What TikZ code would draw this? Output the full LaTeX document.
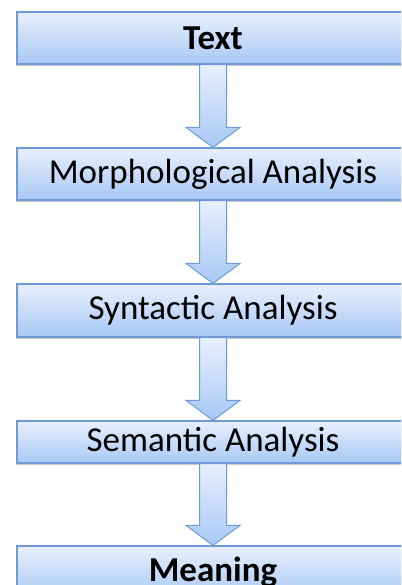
\documentclass[tikz,border=0pt]{standalone}
\usepackage{fontspec}
\setmainfont{Carlito}
\usetikzlibrary{calc,shadows}
\definecolor{boxtop}{RGB}{232,240,253}
\definecolor{boxbot}{RGB}{168,200,245}
\definecolor{boxline}{RGB}{110,155,215}
\tikzset{
  stagebox/.style={rectangle, draw=boxline, line width=1.2pt, top color=boxtop, bottom color=boxbot,
    minimum width=392pt, inner sep=0pt, font=\fontsize{35}{40}\selectfont,
    drop shadow={shadow xshift=-1pt, shadow yshift=-2pt, opacity=0.35, fill=black!60}},
  flowarrow/.style={draw=boxline, line width=1pt, line join=miter, top color=boxtop, bottom color=boxbot}
}
\newcommand{\downarrowshape}[2]{%
  \path[flowarrow] ($(#1.south)+(-13.5,0)$) -- ($(#1.south)+(13.5,0)$)
    -- ($(#2.north)+(13.5,-20)$) -- ($(#2.north)+(27,-20)$) -- (#2.north)
    -- ($(#2.north)+(-27,-20)$) -- ($(#2.north)+(-13.5,-20)$) -- cycle;}
\begin{document}
\begin{tikzpicture}[x=1pt,y=-1pt]
\useasboundingbox (0,0) rectangle (401,585);
\clip (0,0) rectangle (401,585);
\node[stagebox, minimum height=52pt] (t) at (213,38) {\bfseries Text};
\node[stagebox, minimum height=52pt] (m) at (213,174) {Morphological Analysis};
\node[stagebox, minimum height=53pt] (s) at (213,310.5) {Syntactic Analysis};
\node[stagebox, minimum height=42pt] (e) at (213,442) {Semantic Analysis};
\node[stagebox, minimum height=52pt] (g) at (213,572) {\bfseries Meaning};
\downarrowshape{t}{m}
\downarrowshape{m}{s}
\downarrowshape{s}{e}
\downarrowshape{e}{g}
\end{tikzpicture}
\end{document}
